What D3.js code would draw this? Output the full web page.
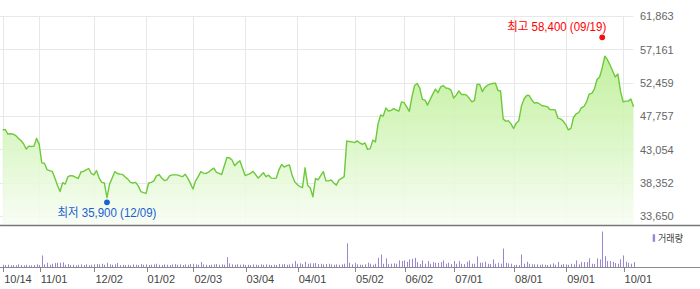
<!DOCTYPE html>
<html>
<head>
<meta charset="utf-8">
<script src="https://cdn.jsdelivr.net/npm/d3@7/dist/d3.min.js"></script>
<style>
  body { margin: 0; background: #fff; }
  svg { display: block; }
</style>
</head>
<body>
<div id="chart"></div>
<script>
// daily close, 2024-10-14 .. 2025-10-14 (243 trading days)
const closes = [
  45800,45850,45200,45250,45200,45000,44600,44300,43850,43100,
  43500,43450,43500,44600,43750,41150,41100,40200,40050,39950,
  39000,38000,37100,38350,38150,39200,39350,39300,39100,38950,
  39850,39950,40150,40350,39650,39450,40050,39000,38400,38300,
  36250,38150,39000,39900,39650,39550,39500,39150,38850,38400,
  38300,38400,37900,37100,36950,36850,38300,38400,38600,39300,
  39500,39000,38650,38750,39300,39450,39450,39450,39300,39200,
  39550,39000,38250,37450,38600,39200,39900,39700,39650,39850,
  40150,40400,39800,39650,39500,40700,41900,41850,41550,40750,
  41150,41450,40400,39350,39500,39650,39950,39500,39000,39350,
  39750,39200,39400,39000,38950,39000,40200,40900,40550,40750,
  40850,39450,38500,38100,37800,37650,40450,38000,37600,36350,
  38950,38750,39350,39900,38600,38600,38750,38300,38000,38750,
  38950,39200,44250,44150,44100,44000,44250,43950,43750,43950,
  43050,43150,44350,44100,46650,47900,47750,48900,48450,48550,
  48800,48600,48450,49750,49650,49050,48400,50450,52050,52350,
  51700,50100,50000,49300,50100,50850,51550,51050,51850,52050,
  51700,51650,51400,50300,50700,51300,50800,50800,50700,50250,
  49750,49950,52250,52200,51200,51800,52100,52250,52350,52400,
  51350,51300,47350,47000,47100,46650,46000,46750,47100,49150,
  50150,50650,50650,50000,49600,49650,49450,49200,49150,49050,
  48650,48650,48600,47450,47350,47050,46550,45800,46000,47550,
  48050,48250,48900,49100,49750,50850,50950,51550,52900,53250,
  54550,56200,55700,54950,54100,53250,53700,51300,49750,49850,
  49850,50150,49050
];

// traded volume, thousand shares
const volumes = [
  690,600,690,510,600,510,810,600,510,690,
  510,510,600,810,600,3510,810,1290,690,990,
  1200,1290,1290,1410,690,900,600,690,510,690,
  810,600,810,510,690,810,900,810,990,690,
  1290,810,690,810,1200,600,690,600,690,510,
  810,690,600,900,690,810,600,690,810,990,
  690,600,810,690,600,810,900,690,810,600,
  810,690,900,990,810,690,1500,810,690,600,
  690,810,900,690,810,690,3000,1110,810,690,
  810,690,810,600,690,600,810,690,600,810,
  690,810,690,600,690,600,900,810,900,690,
  810,990,1800,990,1110,900,1590,990,1110,1110,
  1200,900,990,810,900,990,810,690,810,690,
  810,990,7200,1290,810,1290,810,690,690,810,
  1290,990,690,990,2790,3810,990,2610,900,990,
  1110,990,2010,1800,2010,1590,2310,2490,2790,1500,
  900,2010,990,1800,990,1500,1290,1290,1500,2010,
  990,1290,900,1800,990,1800,990,900,1590,2010,
  990,990,3210,1290,1290,1590,990,900,2310,990,
  1290,990,5610,1290,1110,990,600,690,600,3810,
  990,1590,990,810,810,810,690,810,690,600,
  810,1110,690,1500,690,900,810,690,990,810,
  2010,810,1500,1500,1500,2610,990,900,2610,2310,
  10800,3300,1800,1800,1590,1200,990,2310,3510,1590,
  1290,990,1500
];

const tickIndex  = [0, 14, 35, 55, 73, 93, 113, 135, 154, 173, 196, 216, 238];
const tickLabels = ["10/14","11/01","12/02","01/02","02/03","03/04","04/01","05/02","06/02","07/01","08/01","09/01","10/01"];
const yTicks = [33650, 38352, 43054, 47757, 52459, 57161, 61863];

const high = { index: 230, value: 58400, label: "최고 58,400 (09/19)" };
const low  = { index: 40,  value: 35900, label: "최저 35,900 (12/09)" };

const W = 700, H = 289;
const plotRight = 633.5;
const priceBottom = 225;
const volBottom = 267;

const svg = d3.select("#chart").append("svg")
  .attr("width", W).attr("height", H)
  .attr("viewBox", `0 0 ${W} ${H}`)
  .style("font-family", "'Liberation Sans', Arial, 'Noto Sans CJK KR', sans-serif");

const x = d3.scaleLinear().domain([0, closes.length - 1]).range([2.7, plotRight]);
const y = d3.scaleLinear().domain([yTicks[0], yTicks[yTicks.length - 1]]).range([216, 16]);
const yv = d3.scaleLinear().domain([0, d3.max(volumes)]).range([volBottom, 231.5]);

// gradient for the price area
const grad = svg.append("defs").append("linearGradient")
  .attr("id", "areaFill")
  .attr("gradientUnits", "userSpaceOnUse")
  .attr("x1", 0).attr("x2", 0).attr("y1", 50).attr("y2", priceBottom);
grad.append("stop").attr("offset", 0).attr("stop-color", "#b9ee8f");
grad.append("stop").attr("offset", 0.55).attr("stop-color", "#d9f6c4");
grad.append("stop").attr("offset", 1).attr("stop-color", "#f8fdf4");

// grid
const grid = svg.append("g").attr("stroke", "#e8e8e8").attr("stroke-width", 1);
grid.selectAll("line.h").data(yTicks).join("line")
  .attr("class", "h")
  .attr("x1", 0).attr("x2", plotRight)
  .attr("y1", d => Math.round(y(d)) + 0.5).attr("y2", d => Math.round(y(d)) + 0.5);
grid.selectAll("line.v").data(tickIndex).join("line")
  .attr("class", "v")
  .attr("x1", d => Math.round(x(d)) + 0.5).attr("x2", d => Math.round(x(d)) + 0.5)
  .attr("y1", 16).attr("y2", priceBottom);

// price area + line
const area = d3.area()
  .x((d, i) => x(i))
  .y0(priceBottom)
  .y1(d => y(d));
svg.append("path")
  .datum(closes)
  .attr("d", area)
  .attr("fill", "url(#areaFill)")
  .attr("fill-opacity", 0.88);

const line = d3.line()
  .x((d, i) => x(i))
  .y(d => y(d));
svg.append("path")
  .datum(closes)
  .attr("d", line)
  .attr("fill", "none")
  .attr("stroke", "#6dc93a")
  .attr("stroke-width", 1.4)
  .attr("stroke-linejoin", "round");

// high / low markers
function marker(m, color, dy) {
  const cx = x(m.index), cy = y(m.value) + dy;
  svg.append("circle").attr("cx", cx).attr("cy", cy).attr("r", 2.9).attr("fill", color);
  return [cx, cy];
}
const [hx, hy] = marker(high, "#f01010", -3.2);
svg.append("text")
  .attr("x", hx + 4 - 99).attr("y", hy - 6.5)
  .attr("font-size", 12).attr("fill", "#ff0000")
  .attr("textLength", 99).attr("lengthAdjust", "spacingAndGlyphs")
  .text(high.label);

const [lx, ly] = marker(low, "#1a62d8", 2.3);
svg.append("text")
  .attr("x", lx - 49.5).attr("y", ly + 14.2)
  .attr("font-size", 12).attr("fill", "#1a5fd2")
  .attr("textLength", 99).attr("lengthAdjust", "spacingAndGlyphs")
  .text(low.label);

// right price axis
const yAxis = svg.append("g")
  .attr("transform", `translate(638,0)`)
  .call(d3.axisRight(y).tickValues(yTicks).tickSize(0).tickFormat(d3.format(",")));
yAxis.select(".domain").remove();
yAxis.selectAll("text")
  .attr("x", 2).attr("dy", "0.36em")
  .attr("font-size", 11).attr("fill", "#666")
  .style("font-family", "'Liberation Sans', Arial, sans-serif");

// panel separators
svg.append("line")
  .attr("x1", 0).attr("x2", W).attr("y1", priceBottom + 0.5).attr("y2", priceBottom + 0.5)
  .attr("stroke", "#777").attr("stroke-width", 1.4);
svg.append("line")
  .attr("x1", 0).attr("x2", W).attr("y1", volBottom + 0.5).attr("y2", volBottom + 0.5)
  .attr("stroke", "#8a8a8a").attr("stroke-width", 1);

// volume bars
svg.append("g").selectAll("line").data(volumes).join("line")
  .attr("x1", (d, i) => Math.round(x(i)) + 0.5)
  .attr("x2", (d, i) => Math.round(x(i)) + 0.5)
  .attr("y1", volBottom)
  .attr("y2", d => yv(d))
  .attr("stroke", "#9b84d2")
  .attr("stroke-width", 1);

// volume legend
svg.append("rect").attr("x", 652.7).attr("y", 234.3).attr("width", 2.4).attr("height", 7.5).attr("fill", "#9b84d2");
svg.append("text")
  .attr("x", 658).attr("y", 242)
  .attr("font-size", 10).attr("fill", "#444")
  .attr("textLength", 25).attr("lengthAdjust", "spacingAndGlyphs")
  .text("거래량");

// date axis
const xAxis = svg.append("g")
  .attr("transform", `translate(0,${volBottom})`)
  .call(d3.axisBottom(x).tickValues(tickIndex).tickSize(5)
    .tickFormat((d, i) => tickLabels[i]));
xAxis.select(".domain").remove();
xAxis.selectAll(".tick line")
  .attr("stroke", "#888")
  .attr("transform", function () {
    const t = d3.select(this.parentNode).attr("transform");
    const tx = +t.match(/translate\(([^,]+)/)[1];
    return `translate(${Math.round(tx) + 0.5 - tx},0)`;
  });
xAxis.selectAll("text")
  .attr("text-anchor", "start")
  .attr("x", 1).attr("y", 8).attr("dy", "0.71em")
  .attr("font-size", 11).attr("fill", "#444")
  .style("font-family", "'Liberation Sans', Arial, sans-serif");
</script>
</body>
</html>
